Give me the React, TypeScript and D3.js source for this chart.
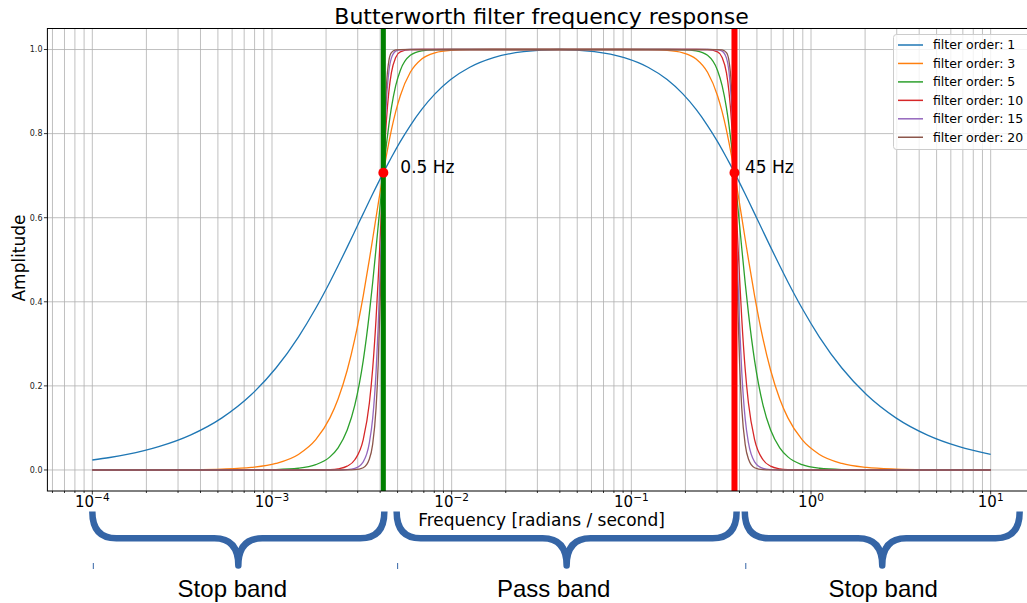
import React from 'react';
import * as d3 from 'd3';

// ---- data ----
const freq = [0.0001, 0.000125, 0.00015606, 0.00023407, 0.0003511, 0.0005266, 0.0007658, 0.0010526, 0.0014027, 0.0017521, 0.0021008, 0.0023326, 0.0026218, 0.0028903, 0.0032196, 0.0034838, 0.0036328, 0.003795, 0.0038994, 0.0040096, 0.0040866, 0.0041667, 0.0042496, 0.004336, 0.0044724, 0.0046175, 0.0048813, 0.0051765, 0.0058856, 0.0068137, 0.0080752, 0.009876, 0.012615, 0.017117, 0.025119, 0.039528, 0.062205, 0.091287, 0.12387, 0.15821, 0.1935, 0.22932, 0.26549, 0.30186, 0.3201, 0.33839, 0.34936, 0.36036, 0.36767, 0.375, 0.38235, 0.3897, 0.40072, 0.41172, 0.43011, 0.44849, 0.48531, 0.5406, 0.59597, 0.66985, 0.74379, 0.89183, 1.1139, 1.4844, 2.0404, 2.9673, 4.4504, 6.6753, 10];

const order1 = [0.0237, 0.0297, 0.0370, 0.0555, 0.0830, 0.1240, 0.1789, 0.2425, 0.3162, 0.3846, 0.4472, 0.4856, 0.5300, 0.5677, 0.6097, 0.6402, 0.6562, 0.6727, 0.6828, 0.6931, 0.7001, 0.7071, 0.7142, 0.7214, 0.7323, 0.7433, 0.7619, 0.7809, 0.8192, 0.8575, 0.8944, 0.9285, 0.9578, 0.9806, 0.9950, 1.0,
  0.9950, 0.9806, 0.9578, 0.9285, 0.8944, 0.8575, 0.8192, 0.7809, 0.7619, 0.7433, 0.7323, 0.7214, 0.7142, 0.7071, 0.7001, 0.6931, 0.6828, 0.6727, 0.6562, 0.6402, 0.6097, 0.5677, 0.5300, 0.4856, 0.4472, 0.3846, 0.3162, 0.2425, 0.1789, 0.1240, 0.0830, 0.0555, 0.0371];

const order3 = [0, 0, 0.0001, 0.0002, 0.0006, 0.0020, 0.0060, 0.0156, 0.0370, 0.0721, 0.1240, 0.1690, 0.2372, 0.3117, 0.4143, 0.5009, 0.5494, 0.6007, 0.6324, 0.6644, 0.6858, 0.7071, 0.7282, 0.7490, 0.7792, 0.8081, 0.8521, 0.8901, 0.9459, 0.9775, 0.9923, 0.9980, 0.9996, 1, 1, 1,
  1, 1, 0.9996, 0.9980, 0.9923, 0.9775, 0.9459, 0.8901, 0.8521, 0.8081, 0.7792, 0.7490, 0.7282, 0.7071, 0.6858, 0.6644, 0.6324, 0.6007, 0.5494, 0.5009, 0.4143, 0.3117, 0.2372, 0.1690, 0.1240, 0.0721, 0.0370, 0.0156, 0.0060, 0.0020, 0.0006, 0.0002, 0.0001];

const order5 = [0, 0, 0, 0, 0, 0, 0.0002, 0.0010, 0.0041, 0.0126, 0.0312, 0.0528, 0.0949, 0.1541, 0.2601, 0.3729, 0.4452, 0.5275, 0.5805, 0.6350, 0.6713, 0.7071, 0.7419, 0.7750, 0.8209, 0.8611, 0.9141, 0.9503, 0.9862, 0.9970, 0.9995, 1, 1, 1, 1, 1,
  1, 1, 1, 1, 0.9995, 0.9970, 0.9862, 0.9503, 0.9141, 0.8611, 0.8209, 0.7750, 0.7419, 0.7071, 0.6713, 0.6350, 0.5805, 0.5275, 0.4452, 0.3729, 0.2601, 0.1541, 0.0949, 0.0528, 0.0312, 0.0126, 0.0041, 0.0010, 0.0002, 0, 0, 0, 0];

const order10 = [0, 0, 0, 0, 0, 0, 0, 0, 0, 0.0002, 0.0010, 0.0028, 0.0091, 0.0243, 0.0723, 0.1594, 0.2400, 0.3597, 0.4532, 0.5598, 0.6342, 0.7071, 0.7744, 0.8328, 0.9001, 0.9443, 0.9812, 0.9943, 0.9996, 1, 1, 1, 1, 1, 1, 1,
  1, 1, 1, 1, 1, 1, 0.9996, 0.9943, 0.9812, 0.9443, 0.9001, 0.8328, 0.7744, 0.7071, 0.6342, 0.5598, 0.4532, 0.3597, 0.2400, 0.1594, 0.0723, 0.0243, 0.0091, 0.0028, 0.0010, 0.0002, 0, 0, 0, 0, 0, 0, 0];

const order15 = [0, 0, 0, 0, 0, 0, 0, 0, 0, 0, 0, 0.0001, 0.0009, 0.0038, 0.0195, 0.0648, 0.1220, 0.2328, 0.3408, 0.4855, 0.5964, 0.7071, 0.8044, 0.8791, 0.9477, 0.9795, 0.9962, 0.9994, 1, 1, 1, 1, 1, 1, 1, 1,
  1, 1, 1, 1, 1, 1, 1, 0.9994, 0.9962, 0.9795, 0.9477, 0.8791, 0.8044, 0.7071, 0.5964, 0.4855, 0.3408, 0.2328, 0.1220, 0.0648, 0.0195, 0.0038, 0.0009, 0.0001, 0, 0, 0, 0, 0, 0, 0, 0, 0];

const order20 = [0, 0, 0, 0, 0, 0, 0, 0, 0, 0, 0, 0, 0.0001, 0.0006, 0.0053, 0.0261, 0.0610, 0.1470, 0.2502, 0.4152, 0.5583, 0.7071, 0.8317, 0.9147, 0.9737, 0.9927, 0.9993, 0.9999, 1, 1, 1, 1, 1, 1, 1, 1,
  1, 1, 1, 1, 1, 1, 1, 0.9999, 0.9993, 0.9927, 0.9737, 0.9147, 0.8317, 0.7071, 0.5583, 0.4152, 0.2502, 0.1470, 0.0610, 0.0261, 0.0053, 0.0006, 0.0001, 0, 0, 0, 0, 0, 0, 0, 0, 0, 0];

const orders = [1, 3, 5, 10, 15, 20];
const series = [order1, order3, order5, order10, order15, order20];
const colors = ['#1f77b4', '#ff7f0e', '#2ca02c', '#d62728', '#9467bd', '#8c564b'];

const cutoffs = [0.0041667, 0.375];
const cutoffAmp = 0.7071;
const cutoffLabels = ['0.5 Hz', '45 Hz'];
const cutoffColors = ['#008000', '#ff0000'];

const yTicks = [0, 0.2, 0.4, 0.6, 0.8, 1.0];
const xTickExps = [-4, -3, -2, -1, 0, 1];

const bandLabels = ['Stop band', 'Pass band', 'Stop band'];
const bandFrom = [0.0001, 0.00494, 0.428];
const bandTo = [0.00422, 0.3855, 14.5];

// ---- layout ----
const W = 1027, H = 603;
const L = 47.4, R = 1035.6, T = 28.5, B = 491;

export default function App() {
  const x = d3.scaleLog().domain([Math.pow(10, -4.25), Math.pow(10, 1.25)]).range([L, R]);
  const y = d3.scaleLinear().domain([-0.05, 1.05]).range([B, T]);

  const line = d3.line<[number, number]>()
    .x(d => x(d[0]))
    .y(d => y(d[1]))
    .curve(d3.curveMonotoneX);

  const minorTicks: number[] = [];
  for (let e = -5; e <= 1; e++) {
    for (let m = 2; m <= 9; m++) {
      const v = m * Math.pow(10, e);
      if (v > x.domain()[0] && v < x.domain()[1]) minorTicks.push(v);
    }
  }
  const majorTicks = xTickExps.map(e => Math.pow(10, e));

  const font = 'DejaVu Sans, sans-serif';
  const braceColor = '#3565a6';

  const bracePath = (x0: number, x1: number) => {
    const yTop = 511.5, yMid = 538.3, yTip = 565.5;
    const r = 24, r2 = 24;
    const xm = (x0 + x1) / 2;
    return `M${x0},${yTop} Q${x0},${yMid} ${x0 + r},${yMid} L${xm - r2},${yMid} Q${xm},${yMid} ${xm},${yTip} Q${xm},${yMid} ${xm + r2},${yMid} L${x1 - r},${yMid} Q${x1},${yMid} ${x1},${yTop}`;
  };
  const bandTextDx = [-6, -13, 1];

  return (
    <svg width={W} height={H} style={{ position: 'absolute', left: 0, top: 0, background: '#fff' }} fontFamily={font}>
      <defs>
        <clipPath id="plot">
          <rect x={L} y={T} width={R - L} height={B - T} />
        </clipPath>
      </defs>
      <rect x={0} y={0} width={W} height={H} fill="#fff" />

      {/* grid */}
      <g stroke="#b0b0b0" strokeWidth={0.8}>
        {minorTicks.concat(majorTicks).map((v, i) => (
          <line key={'gx' + i} x1={x(v)} x2={x(v)} y1={T} y2={B} />
        ))}
        {yTicks.map((v, i) => (
          <line key={'gy' + i} x1={L} x2={R} y1={y(v)} y2={y(v)} />
        ))}
      </g>

      {/* curves */}
      <g clipPath="url(#plot)" fill="none">
        {series.map((s, k) => (
          <path key={'c' + k}
            d={line(freq.map((f, i) => [f, s[i]] as [number, number])) || ''}
            stroke={colors[k]} strokeWidth={1.3} />
        ))}
        {cutoffs.map((c, k) => (
          <line key={'v' + k} x1={x(c)} x2={x(c)} y1={T} y2={B}
            stroke={cutoffColors[k]} strokeWidth={k === 0 ? 5 : 6} />
        ))}
        {cutoffs.map((c, k) => (
          <circle key={'p' + k} cx={x(c)} cy={y(cutoffAmp)} r={5} fill="#ff0000" />
        ))}
      </g>
      {cutoffs.map((c, k) => (
        <text key={'t' + k} x={x(c) + (k === 0 ? 17 : 10.5)} y={173} fontSize={17} fill="#000">
          {cutoffLabels[k]}
        </text>
      ))}

      {/* spines */}
      <rect x={L} y={T} width={R - L} height={B - T} fill="none" stroke="#000" strokeWidth={1} />

      {/* ticks */}
      <g stroke="#000" strokeWidth={0.8}>
        {majorTicks.map((v, i) => (
          <line key={'mt' + i} x1={x(v)} x2={x(v)} y1={B} y2={B + 3.5} />
        ))}
        {minorTicks.map((v, i) => (
          <line key={'nt' + i} x1={x(v)} x2={x(v)} y1={B} y2={B + 2} />
        ))}
        {yTicks.map((v, i) => (
          <line key={'yt' + i} x1={L - 3.5} x2={L} y1={y(v)} y2={y(v)} />
        ))}
      </g>
      {xTickExps.map((e, i) => (
        <text key={'xl' + i} x={x(Math.pow(10, e))} y={506.5} fontSize={15} textAnchor="middle" fill="#000">
          10<tspan dy={-6} fontSize={10.5}>{e < 0 ? '\u2212' + Math.abs(e) : String(e)}</tspan>
        </text>
      ))}
      {yTicks.map((v, i) => (
        <text key={'yl' + i} x={42.5} y={y(v)} dy="0.35em" fontSize={8} textAnchor="end" fill="#222">
          {v.toFixed(1)}
        </text>
      ))}

      {/* axis labels + title */}
      <text x={(L + R) / 2} y={24} fontSize={22} textAnchor="middle" fill="#000">
        Butterworth filter frequency response
      </text>
      <text x={(L + R) / 2} y={526} fontSize={17} textAnchor="middle" fill="#000">
        Frequency [radians / second]
      </text>
      <text transform={`translate(25,258) rotate(-90)`} fontSize={17} textAnchor="middle" fill="#000">
        Amplitude
      </text>

      {/* legend */}
      <g>
        <rect x={893.5} y={34.5} width={138} height={115} rx={3} fill="#fff" fillOpacity={0.8} stroke="#cccccc" strokeWidth={1} />
        {orders.map((o, k) => {
          const yy = 45 + k * 18.45;
          return (
            <g key={'lg' + k}>
              <line x1={898} x2={923} y1={yy} y2={yy} stroke={colors[k]} strokeWidth={1.5} />
              <text x={933} y={yy} dy="0.35em" fontSize={12.5} fill="#000">{`filter order: ${o}`}</text>
            </g>
          );
        })}
      </g>

      {/* band braces */}
      {bandLabels.map((lab, k) => {
        const x0 = x(bandFrom[k]);
        const x1 = x(bandTo[k]);
        const xm = (x0 + x1) / 2;
        return (
          <g key={'b' + k}>
            <path d={bracePath(x0, x1)} fill="none" stroke={braceColor} strokeWidth={6.5} strokeLinejoin="round" />
            <line x1={x0 + 1} x2={x0 + 1} y1={563} y2={569} stroke={braceColor} strokeWidth={1} />
            <text x={xm + bandTextDx[k]} y={597} fontSize={24} textAnchor="middle" fill="#000"
              fontFamily="Liberation Sans, Arial, sans-serif">{lab}</text>
          </g>
        );
      })}
    </svg>
  );
}
